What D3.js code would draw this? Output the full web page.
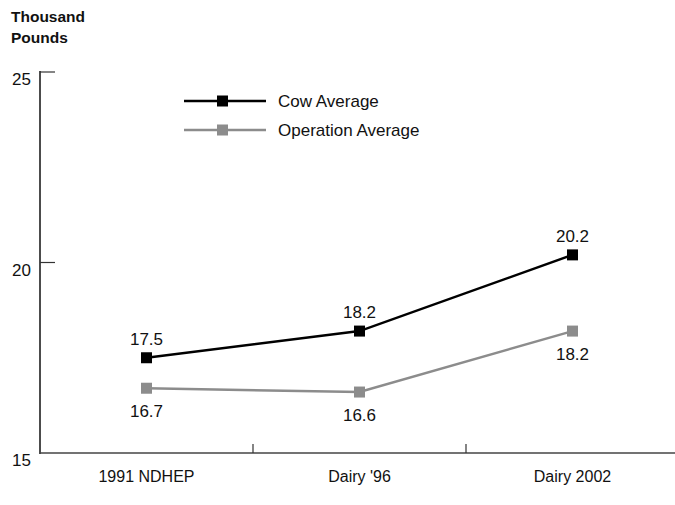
<!DOCTYPE html>
<html><head><meta charset="utf-8">
<script src="https://cdn.jsdelivr.net/npm/d3@7"></script>
<style>body{margin:0;background:#fff}svg{display:block}text{font-family:"Liberation Sans",Arial,sans-serif}</style>
</head><body><div id="c"></div>
<script>
const categories = ["1991 NDHEP", "Dairy '96", "Dairy 2002"];
const cowAverage = [17.5, 18.2, 20.2];
const operationAverage = [16.7, 16.6, 18.2];
const yTicks = [15, 20, 25];
const seriesNames = ["Cow Average", "Operation Average"];
const seriesColors = ["#000000", "#8c8c8c"];

const W = 675, H = 505;
const svg = d3.select("#c").append("svg").attr("width", W).attr("height", H);
const x0 = 40, yTop = 72, yBot = 453;
const x = d3.scaleBand().domain(categories).range([x0, x0 + 639]);
const y = d3.scaleLinear().domain([15, 25]).range([yBot, yTop]);

// axes
svg.append("line").attr("x1", x0).attr("x2", x0).attr("y1", yTop - 1).attr("y2", yBot + 1)
  .attr("stroke", "#111").attr("stroke-width", 1.5);
svg.append("line").attr("x1", x0).attr("x2", W).attr("y1", yBot).attr("y2", yBot)
  .attr("stroke", "#444").attr("stroke-width", 1.5);
yTicks.forEach(t => {
  if (t !== 15) svg.append("line").attr("x1", x0).attr("x2", x0 + 15).attr("y1", y(t)).attr("y2", y(t))
    .attr("stroke", "#333").attr("stroke-width", 1.2);
  svg.append("text").attr("x", 31).attr("y", y(t) + 13).attr("text-anchor", "end")
    .attr("font-size", 17).attr("fill", "#111").text(t);
});
categories.slice(1).forEach(c => {
  svg.append("line").attr("x1", x(c)).attr("x2", x(c)).attr("y1", yBot).attr("y2", yBot - 9)
    .attr("stroke", "#333").attr("stroke-width", 1.2);
});
categories.forEach(c => {
  svg.append("text").attr("x", x(c) + x.bandwidth() / 2).attr("y", 482).attr("text-anchor", "middle")
    .attr("font-size", 16).attr("fill", "#111").text(c);
});
svg.append("text").attr("x", 11).attr("y", 22).attr("font-size", 15.5).attr("font-weight", "bold").attr("fill", "#111").text("Thousand");
svg.append("text").attr("x", 11).attr("y", 43).attr("font-size", 15.5).attr("font-weight", "bold").attr("fill", "#111").text("Pounds");

const cx = c => x(c) + x.bandwidth() / 2;
const line = d3.line().x((d, i) => cx(categories[i])).y(d => y(d));
[[cowAverage, 0, -13], [operationAverage, 1, 29]].forEach(([vals, k, dy]) => {
  svg.append("path").attr("d", line(vals)).attr("fill", "none")
    .attr("stroke", seriesColors[k]).attr("stroke-width", 2.5);
  vals.forEach((v, i) => {
    svg.append("rect").attr("x", cx(categories[i]) - 5.5).attr("y", y(v) - 5.5).attr("width", 11).attr("height", 11)
      .attr("fill", seriesColors[k]);
    svg.append("text").attr("x", cx(categories[i])).attr("y", y(v) + dy).attr("text-anchor", "middle")
      .attr("font-size", 17).attr("fill", "#111").text(v.toFixed(1));
  });
});

// legend
seriesNames.forEach((n, k) => {
  const ly = 101 + k * 29;
  svg.append("line").attr("x1", 184).attr("x2", 266).attr("y1", ly).attr("y2", ly)
    .attr("stroke", seriesColors[k]).attr("stroke-width", 2.5);
  svg.append("rect").attr("x", 217).attr("y", ly - 5.5).attr("width", 11).attr("height", 11).attr("fill", seriesColors[k]);
  svg.append("text").attr("x", 278).attr("y", ly + 6).attr("font-size", 17).attr("fill", "#111").text(n);
});
</script></body></html>
